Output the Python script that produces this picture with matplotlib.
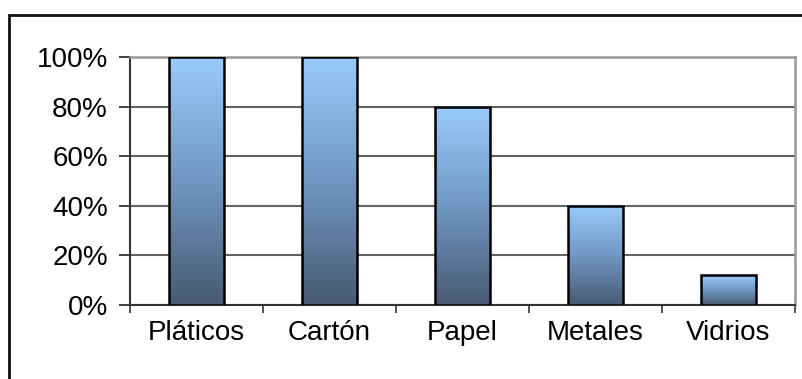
import numpy as np
import matplotlib.pyplot as plt
from matplotlib.colors import LinearSegmentedColormap
from matplotlib.patches import Rectangle
from matplotlib.ticker import FixedLocator

categories = ['Pláticos', 'Cartón', 'Papel', 'Metales', 'Vidrios']
values = [100, 100, 80, 40, 12]
yticks = [0, 20, 40, 60, 80, 100]

plt.rcParams['font.family'] = ['Liberation Sans', 'DejaVu Sans']

fig = plt.figure(figsize=(8.03, 3.79), dpi=100)
ax = fig.add_axes([0.1619, 0.1953, 0.8281, 0.6544])

# outer chart frame, only top and left edges fall inside the canvas
fig.patches.append(Rectangle((0.0106, -0.1), 1.2, 0.9617 + 0.1, transform=fig.transFigure,
                             fill=False, edgecolor='#111111', linewidth=2.0))

cmap = LinearSegmentedColormap.from_list('bar', ['#485a72', '#7197c2', '#9acbfb'])
grad = np.linspace(0, 1, 256).reshape(-1, 1)

x = np.arange(len(categories))
width = 0.42
for xi, v in zip(x, values):
    ax.imshow(grad, cmap=cmap, origin='lower', aspect='auto',
              extent=(xi - width / 2, xi + width / 2, 0, v), zorder=3)
    ax.add_patch(Rectangle((xi - width / 2, 0), width, v, fill=False,
                           edgecolor='black', linewidth=1.8, zorder=4))

ax.set_xlim(-0.5, len(categories) - 0.5)
ax.set_ylim(0, 100)

ax.set_yticks(yticks)
ax.set_yticklabels(['%d%%' % t for t in yticks], fontsize=20)
ax.yaxis.grid(True, color='#626262', linewidth=1.5, zorder=1)
ax.set_axisbelow(True)

ax.set_xticks(x)
ax.set_xticklabels(categories, fontsize=20)
ax.xaxis.set_minor_locator(FixedLocator(np.arange(len(categories) + 1) - 0.5))
ax.tick_params(axis='x', which='major', length=0, pad=11)
ax.tick_params(axis='x', which='minor', length=6, width=1.2, color='#333333')
ax.tick_params(axis='y', length=8, width=1.2, color='#222222', pad=8)

ax.spines['left'].set_color('#333333')
ax.spines['left'].set_linewidth(1.5)
ax.spines['bottom'].set_color('#333333')
ax.spines['bottom'].set_linewidth(1.5)
ax.spines['top'].set_color('#999999')
ax.spines['top'].set_linewidth(1.8)
ax.spines['right'].set_color('#999999')
ax.spines['right'].set_linewidth(1.8)

fig.savefig('out.png', dpi=100)
